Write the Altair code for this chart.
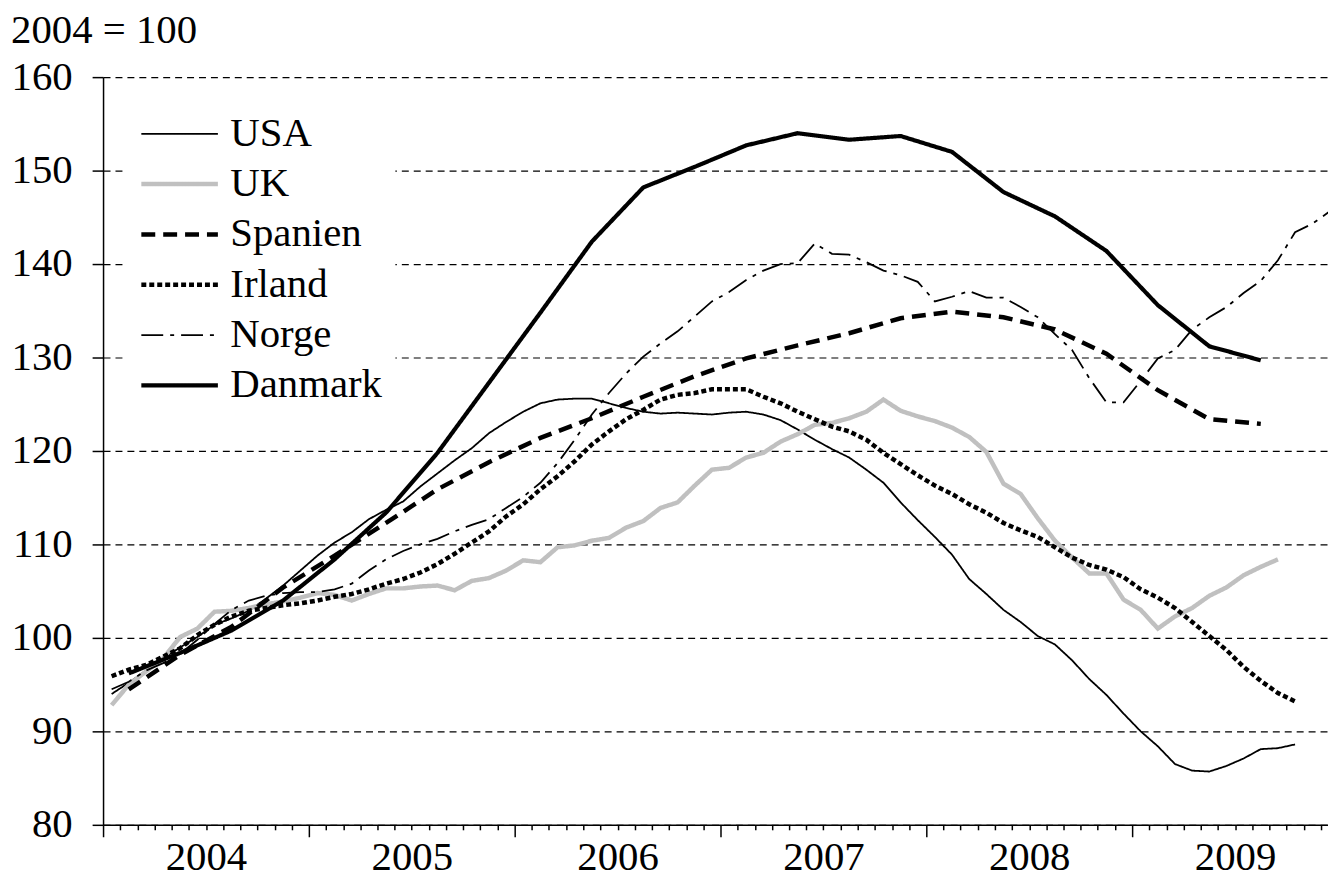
import altair as alt
import pandas as pd

countries = ["USA", "UK", "Spanien", "Irland", "Norge", "Danmark"]

usa_months = list(range(0, 70))
usa = [94.0, 95.2, 96.5, 97.8, 99.0, 100.1, 101.4, 102.1, 102.9, 104.2,
       105.6, 107.2, 108.8, 110.2, 111.3, 112.7, 113.7, 114.6, 116.2, 117.6,
       119.0, 120.3, 121.9, 123.1, 124.2, 125.1, 125.5, 125.6, 125.6, 125.1,
       124.6, 124.2, 124.0, 124.1, 124.0, 123.9, 124.1, 124.2, 123.9, 123.3,
       122.3, 121.2, 120.2, 119.3, 118.0, 116.6, 114.5, 112.6, 110.8, 108.9,
       106.3, 104.7, 103.0, 101.7, 100.2, 99.3, 97.6, 95.6, 93.9, 91.9,
       90.0, 88.4, 86.5, 85.8, 85.7, 86.3, 87.1, 88.1, 88.2, 88.6]

uk_months = list(range(0, 69))
uk = [92.8, 95.0, 96.4, 97.8, 100.1, 101.0, 102.8, 102.9, 103.2, 103.6,
      103.9, 104.3, 104.8, 104.6, 104.0, 104.7, 105.3, 105.3, 105.5, 105.6,
      105.1, 106.1, 106.4, 107.2, 108.3, 108.1, 109.7, 109.9, 110.4, 110.7,
      111.8, 112.5, 113.9, 114.5, 116.3, 118.0, 118.2, 119.3, 119.8, 121.0,
      121.8, 122.8, 123.0, 123.5, 124.2, 125.5, 124.3, 123.7, 123.2, 122.5,
      121.5, 119.9, 116.5, 115.4, 112.8, 110.4, 108.6, 106.9, 106.9, 104.1,
      103.0, 101.0, 102.3, 103.2, 104.5, 105.4, 106.7, 107.6, 108.4]

spanien_months = list(range(1, 68, 3))
spanien = [94.5, 98.2, 101.2, 105.4, 108.8, 112.3, 115.9, 118.8, 121.4, 123.5,
           125.8, 128.0, 129.9, 131.3, 132.6, 134.2, 134.9, 134.3, 133.0, 130.4,
           126.5, 123.4, 122.9]

irland_months = list(range(0, 70))
irland = [95.9, 96.6, 97.1, 98.0, 98.9, 100.3, 101.4, 102.3, 102.9, 103.2,
          103.5, 103.7, 104.0, 104.4, 104.7, 105.2, 105.8, 106.3, 107.0, 107.9,
          109.0, 110.2, 111.4, 113.0, 114.3, 115.9, 117.3, 118.9, 120.7, 122.1,
          123.4, 124.4, 125.5, 126.0, 126.2, 126.6, 126.6, 126.6, 125.8, 125.1,
          124.2, 123.4, 122.6, 122.1, 121.2, 119.8, 118.6, 117.4, 116.3, 115.4,
          114.3, 113.4, 112.3, 111.5, 110.8, 109.7, 108.6, 107.8, 107.3, 106.5,
          105.2, 104.3, 103.2, 101.7, 100.2, 98.7, 96.9, 95.4, 94.1, 93.2]

norge_months = list(range(0, 72))
norge = [94.5, 95.3, 96.5, 97.3, 98.3, 99.8, 101.5, 103.0, 104.0, 104.5,
         104.8, 104.9, 104.9, 105.2, 105.8, 107.2, 108.4, 109.3, 110.0, 110.6,
         111.4, 112.1, 112.7, 113.9, 115.1, 116.6, 118.7, 121.2, 123.9, 126.2,
         128.3, 130.1, 131.5, 132.8, 134.4, 136.0, 137.0, 138.3, 139.3, 140.0,
         140.1, 142.2, 141.1, 141.0, 140.2, 139.3, 138.8, 138.1, 136.0, 136.5,
         137.1, 136.4, 136.4, 135.4, 134.3, 132.5, 130.8, 127.8, 125.2, 125.2,
         127.5, 129.9, 130.8, 133.0, 134.3, 135.4, 136.9, 138.2, 140.4, 143.4,
         144.3, 145.6]

danmark_months = list(range(1, 68, 3))
danmark = [96.2, 98.4, 100.8, 104.0, 108.4, 113.4, 119.8, 127.3, 134.8, 142.4,
           148.2, 150.4, 152.7, 154.0, 153.3, 153.7, 152.0, 147.7, 145.1, 141.4,
           135.6, 131.2, 129.7]

series = [("USA", usa_months, usa), ("UK", uk_months, uk),
          ("Spanien", spanien_months, spanien), ("Irland", irland_months, irland),
          ("Norge", norge_months, norge), ("Danmark", danmark_months, danmark)]

rows = []
for name, months, vals in series:
    for m, v in zip(months, vals):
        rows.append({"land": name, "t": m + 0.5, "v": v})
df = pd.DataFrame(rows)

FONT = "'Liberation Serif', 'Times New Roman', serif"
FS = 41
W = 1232
H = 752
MONTH_PX = 17.25
x_max = W / MONTH_PX

color_range = ["#000000", "#c0c0c0", "#000000", "#000000", "#000000", "#000000"]
width_range = [1.8, 4.5, 4.5, 4.5, 1.8, 4.2]
dash_range = [[1, 0], [1, 0], [14, 8], [5, 3], [22, 7, 4, 7], [1, 0]]

leg = alt.Legend(
    title=None, orient="none", legendX=23, legendY=20,
    fillColor="white", padding=13, symbolType="stroke", symbolSize=5929,
    labelFont=FONT, labelFontSize=FS, labelColor="black", labelOffset=10,
    labelLimit=500, clipHeight=48, rowPadding=2.6,
)

chart = alt.Chart(df).mark_line(clip=True, strokeCap="butt").encode(
    x=alt.X("t:Q",
            scale=alt.Scale(domain=[0, x_max], nice=False, zero=False),
            axis=alt.Axis(
                title=None, values=list(range(0, 72)), grid=False,
                tickSize={"condition": {"test": "datum.value % 12 === 0", "value": 12}, "value": 5},
                tickColor="black", tickWidth=1.5,
                domainColor="black", domainWidth=1.5,
                labelExpr="datum.value % 12 === 6 ? '' + (2004 + floor(datum.value / 12)) : ''",
                labelFont=FONT, labelFontSize=FS, labelColor="black",
                labelPadding=8, labelOverlap=False, labelFlush=False, labelBaseline="top",
            )),
    y=alt.Y("v:Q",
            scale=alt.Scale(domain=[80, 160], nice=False, zero=False),
            axis=alt.Axis(
                title=None, values=list(range(80, 161, 10)), grid=True,
                gridColor="black", gridDash=[7, 5], gridWidth=1.2,
                tickSize=11, tickColor="black", tickWidth=1.5,
                domainColor="black", domainWidth=1.5,
                labelFont=FONT, labelFontSize=FS, labelColor="black",
                labelPadding=20,
            )),
    color=alt.Color("land:N", scale=alt.Scale(domain=countries, range=color_range), legend=leg),
    strokeWidth=alt.StrokeWidth("land:N", scale=alt.Scale(type="ordinal", domain=countries, range=width_range), legend=leg),
    strokeDash=alt.StrokeDash("land:N", scale=alt.Scale(domain=countries, range=dash_range), legend=leg),
).properties(
    width=W, height=H,
    title=alt.TitleParams("2004 = 100", anchor="start", font=FONT, fontSize=FS,
                          fontWeight="normal", color="black", offset=4),
    autosize=alt.AutoSizeParams(type="none"),
    padding={"left": 95.6, "top": 67, "right": 0, "bottom": 58},
).configure_view(strokeWidth=0)

chart.save("out.html", embed_options={"renderer": "svg", "actions": False})
